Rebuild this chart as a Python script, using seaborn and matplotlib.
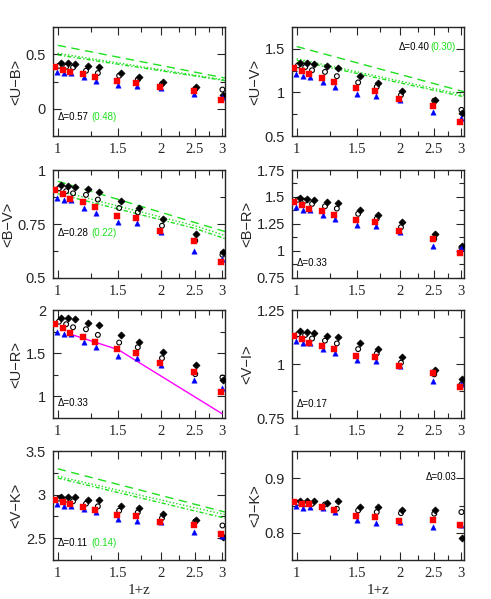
import numpy as np
import pandas as pd
import matplotlib
matplotlib.use("Agg")
import matplotlib.pyplot as plt
import seaborn as sns
from matplotlib.ticker import FixedLocator, FuncFormatter, MultipleLocator, NullFormatter

# ---------------- data ----------------
one_plus_z = [1.0, 1.05, 1.1, 1.2, 1.3, 1.5, 1.7, 2.0, 2.5, 3.0]

ub_red = [0.385, 0.355, 0.339, 0.318, 0.288, 0.252, 0.236, 0.197, 0.167, 0.076]
ub_blue = [0.339, 0.327, 0.324, 0.288, 0.258, 0.221, 0.206, 0.191, 0.136, 0.106]
ub_open = [0.394, 0.385, 0.379, 0.348, 0.327, 0.303, 0.267, 0.227, 0.180, 0.176]
ub_black = [0.418, 0.418, 0.409, 0.388, 0.379, 0.324, 0.288, 0.248, 0.203, 0.127]

uv_red = [1.284, 1.242, 1.208, 1.170, 1.121, 1.045, 1.015, 0.920, 0.845, 0.655]
uv_blue = [1.208, 1.189, 1.178, 1.121, 1.064, 0.981, 0.962, 0.913, 0.780, 0.705]
uv_open = [1.310, 1.290, 1.254, 1.235, 1.186, 1.114, 1.064, 0.970, 0.905, 0.800]
uv_black = [1.340, 1.337, 1.330, 1.300, 1.280, 1.186, 1.110, 1.020, 0.913, 0.760]

bv_red = [0.908, 0.889, 0.866, 0.850, 0.827, 0.789, 0.776, 0.719, 0.670, 0.575]
bv_blue = [0.869, 0.861, 0.861, 0.824, 0.801, 0.761, 0.753, 0.714, 0.623, 0.587]
bv_open = [0.915, 0.902, 0.892, 0.885, 0.863, 0.824, 0.804, 0.742, 0.673, 0.608]
bv_black = [0.931, 0.928, 0.923, 0.913, 0.900, 0.858, 0.824, 0.773, 0.704, 0.622]

br_red = [1.454, 1.423, 1.393, 1.368, 1.337, 1.285, 1.264, 1.184, 1.113, 0.979]
br_blue = [1.408, 1.383, 1.383, 1.337, 1.300, 1.239, 1.230, 1.178, 1.046, 1.025]
br_open = [1.475, 1.466, 1.436, 1.414, 1.393, 1.344, 1.300, 1.220, 1.113, 1.030]
br_black = [1.490, 1.485, 1.472, 1.454, 1.442, 1.380, 1.331, 1.267, 1.160, 1.046]

ur_red = [1.842, 1.788, 1.738, 1.692, 1.635, 1.546, 1.500, 1.385, 1.281, 1.050]
ur_blue = [1.742, 1.723, 1.719, 1.635, 1.569, 1.469, 1.450, 1.365, 1.192, 1.096]
ur_open = [1.865, 1.835, 1.800, 1.777, 1.712, 1.623, 1.569, 1.442, 1.258, 1.219]
ur_black = [1.904, 1.904, 1.892, 1.854, 1.827, 1.712, 1.627, 1.512, 1.365, 1.185]

vi_red = [1.131, 1.114, 1.098, 1.085, 1.069, 1.038, 1.031, 0.991, 0.957, 0.892]
vi_blue = [1.108, 1.095, 1.095, 1.069, 1.049, 1.018, 1.014, 0.991, 0.923, 0.906]
vi_open = [1.138, 1.134, 1.118, 1.108, 1.095, 1.069, 1.049, 1.006, 0.952, 0.906]
vi_black = [1.152, 1.149, 1.142, 1.131, 1.123, 1.095, 1.069, 1.034, 0.972, 0.929]

vk_red = [2.942, 2.912, 2.896, 2.858, 2.823, 2.769, 2.750, 2.681, 2.654, 2.546]
vk_blue = [2.896, 2.873, 2.873, 2.838, 2.796, 2.723, 2.700, 2.681, 2.569, 2.527]
vk_open = [2.954, 2.942, 2.923, 2.896, 2.865, 2.815, 2.796, 2.731, 2.692, 2.646]
vk_black = [2.969, 2.969, 2.969, 2.942, 2.942, 2.873, 2.846, 2.777, 2.712, 2.519]

jk_red = [0.856, 0.853, 0.853, 0.847, 0.841, 0.830, 0.829, 0.821, 0.824, 0.814]
jk_blue = [0.850, 0.845, 0.847, 0.845, 0.838, 0.824, 0.818, 0.820, 0.810, 0.814]
jk_open = [0.855, 0.853, 0.853, 0.852, 0.844, 0.841, 0.838, 0.836, 0.835, 0.838]
jk_black = [0.858, 0.859, 0.859, 0.855, 0.859, 0.848, 0.848, 0.841, 0.841, 0.791]

# model curves (green) and magenta line
line_x2 = [1.0, 3.06]
line_x3 = [1.0, 2.5, 3.06]
ub_dash = [0.582, 0.282]; ub_dot = [0.509, 0.264]; ub_dd = [0.494, 0.258]
uv_dash = [1.526, 1.008]; uv_dot = [1.386, 0.970]; uv_dd = [1.367, 0.950]
bv_dash = [0.948, 0.757, 0.715]; bv_dot = [0.905, 0.742, 0.697]; bv_dd = [0.890, 0.730, 0.682]
vk_dash = [3.296, 2.800]; vk_dot = [3.210, 2.770]; vk_dd = [3.190, 2.730]
ur_mag_x = [1.07, 1.5, 3.0]
ur_mag_y = [1.73, 1.54, 0.80]

y_labels = ["<U\u2212B>", "<U\u2212V>", "<B\u2212V>", "<B\u2212R>",
            "<U\u2212R>", "<V\u2212I>", "<V\u2212K>", "<J\u2212K>"]
delta_black = ["\u0394=0.57", "\u0394=0.40", "\u0394=0.28", "\u0394=0.33",
               "\u0394=0.33", "\u0394=0.17", "\u0394=0.11", "\u0394=0.03"]
delta_green = ["(0.48)", "(0.30)", "(0.22)", None, None, None, "(0.14)", None]
x_ticks = [1, 1.5, 2, 2.5, 3]
x_tick_labels = ["1", "1.5", "2", "2.5", "3"]

# ---------------- style ----------------
sns.set_style("ticks")
plt.rcParams["font.family"] = ["Liberation Sans", "DejaVu Sans"]
plt.rcParams["axes.linewidth"] = 1.0

GREEN = "#1fe01f"
fig = plt.figure(figsize=(4.91, 5.99), dpi=100)

lefts = [53 / 491, 292 / 491]
w = 172 / 491
bottoms_px = [136, 278, 418, 560]
heights_px = [109, 108, 108, 109]

panels = [
    (ub_red, ub_blue, ub_open, ub_black, (-0.25, 0.75), 0.5, 0.25),
    (uv_red, uv_blue, uv_open, uv_black, (0.5, 1.75), 0.5, 0.25),
    (bv_red, bv_blue, bv_open, bv_black, (0.5, 1.0), 0.25, 0.125),
    (br_red, br_blue, br_open, br_black, (0.75, 1.75), 0.25, 0.125),
    (ur_red, ur_blue, ur_open, ur_black, (0.75, 2.0), 0.5, 0.25),
    (vi_red, vi_blue, vi_open, vi_black, (0.75, 1.25), 0.25, 0.125),
    (vk_red, vk_blue, vk_open, vk_black, (2.25, 3.5), 0.5, 0.25),
    (jk_red, jk_blue, jk_open, jk_black, (0.75, 0.95), 0.1, 0.05),
]

green_lines = {
    0: (line_x2, ub_dash, ub_dot, ub_dd),
    1: (line_x2, uv_dash, uv_dot, uv_dd),
    2: (line_x3, bv_dash, bv_dot, bv_dd),
    6: (line_x2, vk_dash, vk_dot, vk_dd),
}

# text positions (axes fraction)
black_pos = [(0.03, 0.17), (0.62, 0.82), (0.03, 0.42), (0.03, 0.14),
             (0.03, 0.14), (0.03, 0.13), (0.03, 0.16), (0.78, 0.76)]
green_xpos = [0.225, 0.805, 0.225, None, None, None, 0.225, None]

offsets = {"red": -0.015, "blue": -0.005, "open": 0.008, "black": 0.022}

for i, (red, blue, opn, blk, ylim, ymaj, ymin) in enumerate(panels):
    row, col = divmod(i, 2)
    b = 1 - bottoms_px[row] / 599
    h = heights_px[row] / 599
    ax = fig.add_axes([lefts[col], b, w, h])
    ax.set_xscale("log")

    if i in green_lines:
        lx, dsh, dot, dd = green_lines[i]
        df_l = pd.DataFrame({"x": lx, "dash": dsh, "dot": dot, "dd": dd})
        sns.lineplot(data=df_l, x="x", y="dash", ax=ax, color=GREEN, lw=1.0,
                     linestyle=(0, (6, 4)), estimator=None)
        sns.lineplot(data=df_l, x="x", y="dot", ax=ax, color=GREEN, lw=1.0,
                     linestyle=(0, (1, 1.5)), estimator=None)
        sns.lineplot(data=df_l, x="x", y="dd", ax=ax, color=GREEN, lw=1.0,
                     linestyle=(0, (3, 1.5, 1, 1.5)), estimator=None)
    if i == 4:
        df_m = pd.DataFrame({"x": ur_mag_x, "y": ur_mag_y})
        sns.lineplot(data=df_m, x="x", y="y", ax=ax, color="#ff00ff", lw=1.0,
                     estimator=None)

    xs = np.array(one_plus_z)
    sns.scatterplot(x=xs + offsets["open"], y=opn, ax=ax, marker="o", s=12,
                    facecolor="none", edgecolor="black", linewidth=0.8, zorder=3)
    sns.scatterplot(x=xs + offsets["black"], y=blk, ax=ax, marker="D", s=13,
                    color="black", edgecolor="black", linewidth=0.5, zorder=4)
    sns.scatterplot(x=xs + offsets["blue"], y=blue, ax=ax, marker="^", s=15,
                    color="#0000ff", edgecolor="#0000ff", linewidth=0.3, zorder=5)
    sns.scatterplot(x=xs + offsets["red"], y=red, ax=ax, marker="s", s=15,
                    color="#ff0000", edgecolor="#ff0000", linewidth=0.3, zorder=6)

    ax.set_xlim(0.969, 3.06)
    ax.set_ylim(*ylim)
    ax.xaxis.set_major_locator(FixedLocator(x_ticks))
    ax.xaxis.set_minor_locator(FixedLocator([1.25, 1.75, 2.25, 2.75]))
    ax.xaxis.set_major_formatter(FuncFormatter(
        lambda v, p: dict(zip(x_ticks, x_tick_labels)).get(round(v, 2), "")))
    ax.xaxis.set_minor_formatter(NullFormatter())
    ax.yaxis.set_major_locator(MultipleLocator(ymaj))
    ax.yaxis.set_minor_locator(MultipleLocator(ymin))
    ax.yaxis.set_major_formatter(FuncFormatter(lambda v, p: f"{v:g}"))

    ax.tick_params(which="both", direction="in", top=True, right=True)
    ax.tick_params(which="major", length=6, width=0.8)
    ax.tick_params(which="minor", length=3.5, width=0.8)
    ax.tick_params(axis="y", labelsize=10.5, pad=5)
    ax.tick_params(axis="x", labelsize=10.5, pad=5)
    for lab in ax.get_xticklabels():
        lab.set_fontfamily(["Liberation Serif", "DejaVu Serif"])
    for sp in ax.spines.values():
        sp.set_visible(True)
        sp.set_linewidth(1.0)

    ax.set_ylabel(y_labels[i], fontsize=10.5, labelpad=2)
    if row == 3:
        ax.set_xlabel("1+z", fontsize=11, family=["Liberation Serif"], labelpad=3)
    else:
        ax.set_xlabel("")

    bx, by = black_pos[i]
    ax.text(bx, by, delta_black[i], transform=ax.transAxes, fontsize=7,
            ha="left", va="center", color="black")
    if delta_green[i] is not None:
        ax.text(green_xpos[i], by, delta_green[i], transform=ax.transAxes,
                fontsize=7, ha="left", va="center", color=GREEN)

fig.savefig("out.png", dpi=100)
